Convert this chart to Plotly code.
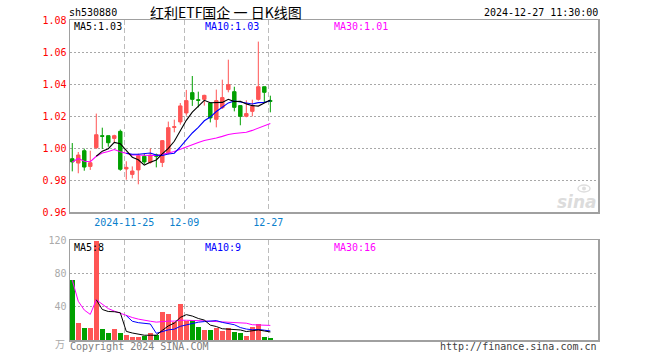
import plotly.graph_objects as go
import pandas as pd

# ---------------- data ----------------
dates = ["2024-11-12", "2024-11-13", "2024-11-14", "2024-11-15", "2024-11-18",
         "2024-11-19", "2024-11-20", "2024-11-21", "2024-11-22", "2024-11-25",
         "2024-11-26", "2024-11-27", "2024-11-28", "2024-11-29", "2024-12-02",
         "2024-12-03", "2024-12-04", "2024-12-05", "2024-12-06", "2024-12-09",
         "2024-12-10", "2024-12-11", "2024-12-12", "2024-12-13", "2024-12-16",
         "2024-12-17", "2024-12-18", "2024-12-19", "2024-12-20", "2024-12-23",
         "2024-12-24", "2024-12-25", "2024-12-26", "2024-12-27"]
opens = [0.9933, 0.9906, 0.9983, 0.9885, 1.0002, 1.0077, 1.0077, 1.0060, 1.0104, 0.9869,
         0.9835, 0.9863, 0.9948, 0.9910, 0.9958, 0.9910, 0.9969, 1.0129, 1.0163, 1.0219,
         1.0346, 1.0302, 1.0304, 1.0281, 1.0179, 1.0252, 1.0365, 1.0352, 1.0265, 1.0198,
         1.0229, 1.0304, 1.0383, 1.0296]
highs = [1.0031, 0.9975, 0.9996, 0.9983, 1.0215, 1.0127, 1.0078, 1.0083, 1.0115, 0.9917,
         0.9885, 0.9965, 0.9965, 0.9998, 0.9965, 1.0050, 1.0165, 1.0177, 1.0281, 1.0363,
         1.0450, 1.0352, 1.0333, 1.0283, 1.0365, 1.0427, 1.0552, 1.0383, 1.0265, 1.0298,
         1.0302, 1.0665, 1.0383, 1.0327]
lows = [0.9854, 0.9842, 0.9858, 0.9863, 0.9994, 0.9994, 1.0008, 1.0035, 0.9858, 0.9802,
        0.9810, 0.9773, 0.9900, 0.9902, 0.9879, 0.9881, 0.9960, 1.0098, 1.0146, 1.0202,
        1.0263, 1.0254, 1.0265, 1.0160, 1.0129, 1.0244, 1.0348, 1.0229, 1.0142, 1.0192,
        1.0198, 1.0296, 1.0281, 1.0223]
closes = [0.9913, 0.9956, 0.9881, 0.9908, 1.0083, 1.0073, 1.0033, 1.0077, 0.9867, 0.9879,
          0.9856, 0.9952, 0.9913, 0.9956, 0.9948, 1.0046, 1.0127, 1.0133, 1.0263, 1.0296,
          1.0304, 1.0298, 1.0329, 1.0188, 1.0296, 1.0315, 1.0396, 1.0254, 1.0198, 1.0215,
          1.0260, 1.0383, 1.0348, 1.0292]
volumes = [71.9, 21.0, 15.0, 15.0, 118.4, 13.7, 8.9, 13.7, 8.9, 6.5,
           4.0, 4.0, 5.3, 8.9, 6.5, 33.1, 30.7, 22.2, 42.8, 23.4,
           24.6, 16.2, 12.5, 12.5, 15.0, 11.3, 15.0, 10.1, 8.9, 5.3,
           16.2, 19.8, 4.0, 2.8]

price_ticks = [0.96, 0.98, 1.00, 1.02, 1.04, 1.06, 1.08]
vol_ticks = [40, 80, 120]
date_ticks = ["2024-11-25", "2024-12-09", "2024-12-27"]
date_ticktext = ["2024-11-25", "12-09", "12-27"]

# ---------------- derived ----------------
idx = list(range(len(dates)))
cs = pd.Series(closes)
vs = pd.Series(volumes)
ma5 = cs.rolling(5).mean()
ma10 = cs.rolling(10).mean()
ma30 = cs.rolling(30, min_periods=1).mean()
vma5 = vs.rolling(5).mean()
vma10 = vs.rolling(10).mean()
vma30 = vs.rolling(30, min_periods=1).mean()

RED = "#ff5555"
GREEN = "#00a000"
vol_colors = [RED if c >= o else GREEN for o, c in zip(opens, closes)]
tick_pos = [dates.index(d) - 1 / 3 for d in date_ticks]

W, H = 660, 360
def px(x): return x / W
def py(y): return 1 - y / H

fig = go.Figure()
fig.add_trace(go.Candlestick(
    x=idx, open=opens, high=highs, low=lows, close=closes,
    increasing=dict(line=dict(color=RED, width=1), fillcolor=RED),
    decreasing=dict(line=dict(color=GREEN, width=1), fillcolor=GREEN),
    whiskerwidth=0, xaxis="x", yaxis="y", showlegend=False, hoverinfo="skip"))
for s, col in [(ma30, "#ff00ff"), (ma10, "#0000ff"), (ma5, "#000000")]:
    fig.add_trace(go.Scatter(x=idx, y=s, mode="lines", line=dict(color=col, width=1.1),
                             xaxis="x", yaxis="y", showlegend=False, hoverinfo="skip"))
fig.add_trace(go.Bar(x=idx, y=volumes, marker=dict(color=vol_colors, line=dict(width=0)),
                     width=0.8, xaxis="x2", yaxis="y2", showlegend=False, hoverinfo="skip"))
for s, col in [(vma30, "#ff00ff"), (vma10, "#0000ff"), (vma5, "#000000")]:
    fig.add_trace(go.Scatter(x=idx, y=s, mode="lines", line=dict(color=col, width=1),
                             xaxis="x2", yaxis="y2", showlegend=False, hoverinfo="skip"))

MONO = "DejaVu Sans Mono"
FRAME = "#a0a0a0"
xr = [-0.38, 87.6]
common_x = dict(range=xr, showline=True, mirror=True, linecolor=FRAME, linewidth=1.5,
                showgrid=True, gridcolor="#bcbcbc", griddash="5px,3px", gridwidth=1.5,
                tickvals=tick_pos, zeroline=False, ticks="", automargin=False)
fig.update_layout(
    template="none",
    width=W, height=H, margin=dict(l=0, r=0, t=0, b=0, pad=0), autosize=False,
    paper_bgcolor="white", plot_bgcolor="white", boxgap=0.18, bargap=0,
    xaxis=dict(domain=[px(70), px(598)], anchor="y", ticktext=date_ticktext,
               tickfont=dict(family=MONO, size=10, color="#0a80cc"),
               rangeslider=dict(visible=False), **common_x),
    yaxis=dict(domain=[py(212), py(20)], range=[0.96, 1.08], anchor="x",
               tickvals=price_ticks, ticktext=["%.2f" % v for v in price_ticks],
               tickfont=dict(family=MONO, size=10, color="#ff0000"),
               showline=True, mirror=True, linecolor=FRAME, linewidth=1.5,
               showgrid=True, gridcolor="#a8a8a8", griddash="2px,2px", gridwidth=1,
               zeroline=False, ticks="", automargin=False),
    xaxis2=dict(domain=[px(70), px(598)], anchor="y2", matches="x", showticklabels=False,
                **common_x),
    yaxis2=dict(domain=[py(340), py(240)], range=[0, 120], anchor="x2",
                tickvals=vol_ticks, ticktext=[str(v) for v in vol_ticks],
                tickfont=dict(family=MONO, size=10, color="#aaaaaa"),
                showline=True, mirror=True, linecolor=FRAME, linewidth=1.5,
                showgrid=True, gridcolor="#a8a8a8", griddash="2px,2px", gridwidth=1,
                zeroline=False, ticks="", automargin=False),
)

def ann(text, x, y, color="#000000", size=10, family=MONO, xanchor="left", **kw):
    fig.add_annotation(text=text, x=px(x), y=py(y), xref="paper", yref="paper",
                       xanchor=xanchor, yanchor="middle", showarrow=False, borderpad=0,
                       font=dict(family=family, size=size, color=color), **kw)

ann("sh530880", 68, 13)
ann("红利ETF国企 一 日K线图", 149, 12, size=14, family="Noto Sans CJK SC")
ann("2024-12-27 11:30:00", 599, 13, xanchor="right")
ann("MA5:1.03", 73, 27)
ann("MA10:1.03", 204, 27, color="#0000ff")
ann("MA30:1.01", 333, 27, color="#ff00ff")
ann("MA5:8", 73, 247)
ann("MA10:9", 204, 247, color="#0000ff")
ann("MA30:16", 333, 247, color="#ff00ff")
ann("万", 66, 343, color="#aaaaaa", size=10, family="Noto Sans CJK SC", xanchor="right")
ann("Copyright 2024 SINA.COM", 69, 346, color="#808080")
ann("http://finance.sina.com.cn", 598, 346, color="#404040", xanchor="right")
ann("<b><i>sina</i></b>", 577, 202, color="#dcdcdc", size=17, family="DejaVu Sans",
    xanchor="center")
# small eye-shaped logo mark of the watermark
fig.add_shape(type="circle", xref="paper", yref="paper",
              x0=px(578), x1=px(590), y0=py(192), y1=py(185),
              line=dict(color="#dedede", width=1.5), fillcolor="rgba(0,0,0,0)")
fig.add_shape(type="circle", xref="paper", yref="paper",
              x0=px(582), x1=px(586), y0=py(190.5), y1=py(186.5),
              line=dict(width=0), fillcolor="#dedede")

fig.write_html("out.html", config={"displayModeBar": False, "staticPlot": True},
               post_script="document.body.style.margin='0px';document.body.style.overflow='hidden';")
